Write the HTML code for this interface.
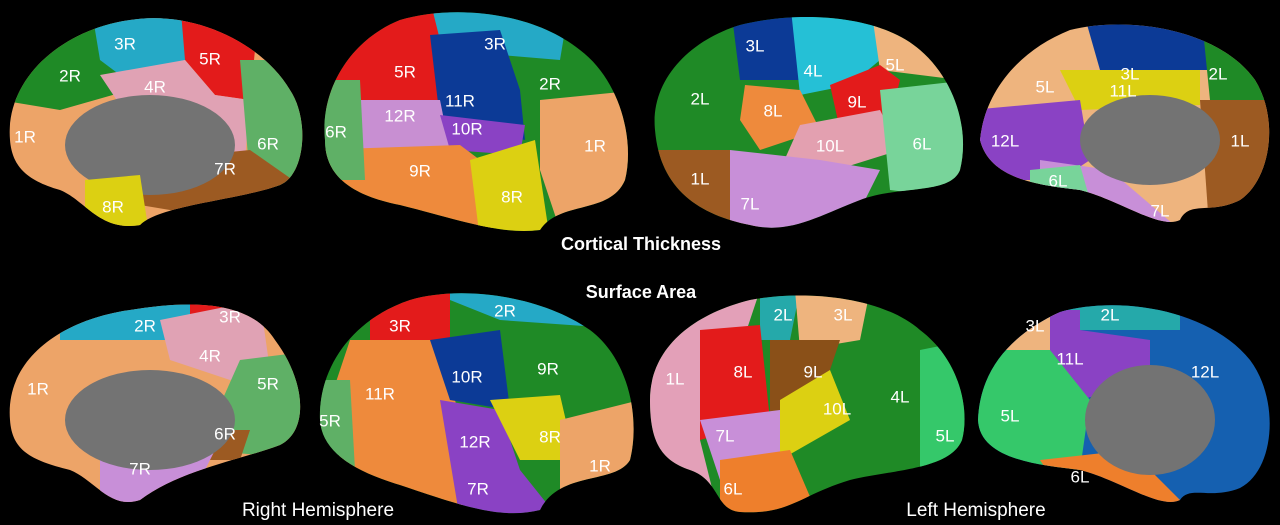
<!DOCTYPE html>
<html><head><meta charset="utf-8"><style>
html,body{margin:0;padding:0;background:#000;width:1280px;height:525px;overflow:hidden}
svg text{font-family:"Liberation Sans",sans-serif;fill:#fff;font-size:17px;text-anchor:middle;dominant-baseline:middle}
</style></head><body>
<svg width="1280" height="525" viewBox="0 0 1280 525" xmlns="http://www.w3.org/2000/svg">
<defs>
<clipPath id="c1"><path d="M10,140 C5,80 60,30 130,20 C190,10 260,40 290,90 C310,120 305,175 280,185 C240,200 160,205 140,225 C100,232 85,200 60,190 C25,180 12,165 10,140Z"/></clipPath>
<clipPath id="c2"><path d="M325,140 C320,90 350,40 400,20 C450,5 530,10 580,50 C620,80 635,140 625,180 C610,215 560,200 540,230 C500,235 460,220 400,205 C350,195 325,175 325,140Z"/></clipPath>
<clipPath id="c3"><path d="M655,130 C650,80 690,40 740,25 C800,10 880,15 920,50 C955,80 970,130 960,170 C950,195 900,185 860,200 C820,215 790,235 750,225 C700,215 660,190 655,130Z"/></clipPath>
<clipPath id="c4"><path d="M980,140 C985,90 1020,50 1070,30 C1130,15 1220,30 1255,80 C1280,120 1270,180 1240,200 C1210,215 1190,200 1180,220 C1160,230 1120,200 1080,190 C1040,185 990,180 980,140Z"/></clipPath>
<clipPath id="c5"><path d="M10,420 C5,360 60,320 130,310 C190,300 250,300 275,340 C305,380 310,430 280,445 C240,460 180,470 140,500 C110,510 95,480 70,470 C30,460 12,450 10,420Z"/></clipPath>
<clipPath id="c6"><path d="M320,420 C318,370 350,320 410,300 C460,285 540,295 590,330 C630,360 640,420 630,460 C615,485 560,470 540,510 C500,520 460,505 400,485 C350,470 322,450 320,420Z"/></clipPath>
<clipPath id="c7"><path d="M650,400 C650,350 690,315 750,300 C800,290 880,295 920,330 C960,360 970,410 962,440 C950,470 890,470 850,480 C800,495 790,515 740,512 C715,510 720,480 690,470 C660,460 650,440 650,400Z"/></clipPath>
<clipPath id="c8"><path d="M978,420 C980,370 1010,335 1060,312 C1120,295 1210,310 1250,360 C1280,400 1275,470 1240,488 C1210,500 1190,485 1180,500 C1160,510 1120,480 1080,470 C1040,465 980,460 978,420Z"/></clipPath>
</defs>

<!-- Brain 1 -->
<g clip-path="url(#c1)">
<rect x="0" y="0" width="320" height="240" fill="#eda468"/>
<polygon points="0,0 110,0 130,90 60,110 0,100" fill="#1f8a26"/>
<polygon points="90,0 190,0 185,60 120,75 100,60" fill="#25a9c6"/>
<polygon points="180,0 260,0 250,100 215,95 185,60" fill="#e31b1b"/>
<polygon points="100,75 185,60 215,95 250,100 245,160 130,120" fill="#e0a2b4"/>
<polygon points="240,60 320,60 320,200 250,180" fill="#5fb066"/>
<polygon points="150,160 250,150 300,185 200,215 140,205" fill="#9c5a22"/>
<ellipse cx="150" cy="145" rx="85" ry="50" fill="#737373"/>
<polygon points="85,180 140,175 150,240 85,240" fill="#dcd012"/>
</g>
<!-- Brain 2 -->
<g clip-path="url(#c2)">
<rect x="310" y="0" width="330" height="240" fill="#1f8a26"/>
<polygon points="320,0 440,0 440,100 380,105 320,110" fill="#e31b1b"/>
<polygon points="430,0 570,0 560,60 500,55 440,40" fill="#25a9c6"/>
<polygon points="430,35 500,30 520,90 525,140 440,120" fill="#0c3a96"/>
<polygon points="540,100 640,90 640,240 560,230 540,170" fill="#eda468"/>
<polygon points="340,100 440,100 450,150 360,160" fill="#c88fd2"/>
<polygon points="440,115 525,125 520,155 450,150" fill="#8a42c4"/>
<polygon points="310,150 460,145 500,175 490,240 310,240" fill="#ee8a3c"/>
<polygon points="470,160 535,140 550,240 480,240" fill="#dcd012"/>
<polygon points="310,80 360,80 365,180 310,180" fill="#5fb066"/>
</g>
<!-- Brain 3 -->
<g clip-path="url(#c3)">
<rect x="640" y="0" width="330" height="240" fill="#1f8a26"/>
<polygon points="730,0 800,0 800,80 740,80" fill="#0c3a96"/>
<polygon points="790,0 880,0 880,60 850,85 800,95" fill="#25c0d6"/>
<polygon points="870,0 970,0 960,80 880,70" fill="#eeb47e"/>
<polygon points="830,85 880,65 900,80 890,120 840,130" fill="#e31b1b"/>
<polygon points="745,85 800,90 820,130 760,150 740,120" fill="#ee8a3c"/>
<polygon points="800,125 880,110 900,150 820,175 780,170" fill="#e3a0b0"/>
<polygon points="880,90 970,80 970,200 890,190" fill="#78d49a"/>
<polygon points="640,150 730,150 760,230 640,240" fill="#9c5a22"/>
<polygon points="730,150 820,160 880,170 860,210 790,240 730,240" fill="#c88fd8"/>
</g>
<!-- Brain 4 -->
<g clip-path="url(#c4)">
<rect x="970" y="0" width="310" height="240" fill="#eeb47e"/>
<polygon points="1080,0 1200,0 1210,70 1100,70" fill="#0c3a96"/>
<polygon points="1200,0 1280,0 1280,100 1210,100" fill="#1f8a26"/>
<polygon points="1200,100 1280,100 1280,240 1210,240" fill="#9c5a22"/>
<polygon points="1060,70 1200,70 1200,105 1080,110" fill="#dcd012"/>
<polygon points="970,110 1080,100 1090,160 1060,180 970,180" fill="#8a42c4"/>
<polygon points="1040,160 1110,170 1180,230 1100,230 1040,200" fill="#c88fd8"/>
<ellipse cx="1150" cy="140" rx="70" ry="45" fill="#737373"/>
<polygon points="1030,170 1080,165 1090,200 1030,200" fill="#78d49a"/>
</g>
<!-- Brain 5 -->
<g clip-path="url(#c5)">
<rect x="0" y="290" width="320" height="230" fill="#eda468"/>
<polygon points="60,290 200,290 190,340 60,340" fill="#25a9c6"/>
<polygon points="190,290 230,290 220,320 190,320" fill="#e31b1b"/>
<polygon points="160,320 260,300 270,370 230,380 170,360" fill="#e0a2b4"/>
<polygon points="240,360 320,350 320,460 200,450" fill="#5fb066"/>
<polygon points="170,430 250,430 240,460 180,460" fill="#9c5a22"/>
<polygon points="100,455 220,440 180,520 100,520" fill="#c88fd8"/>
<ellipse cx="150" cy="420" rx="85" ry="50" fill="#737373"/>
</g>
<!-- Brain 6 -->
<g clip-path="url(#c6)">
<rect x="310" y="285" width="330" height="240" fill="#1f8a26"/>
<polygon points="370,290 450,290 450,350 370,350" fill="#e31b1b"/>
<polygon points="450,285 640,285 640,330 500,320 450,300" fill="#25a9c6"/>
<polygon points="350,340 440,340 460,420 500,460 450,520 350,520 330,400" fill="#ee8a3c"/>
<polygon points="310,380 350,380 355,470 310,470" fill="#5fb066"/>
<polygon points="430,340 500,330 510,410 450,400" fill="#0c3a96"/>
<polygon points="440,400 500,410 520,470 560,520 460,520" fill="#8a42c4"/>
<polygon points="490,400 560,395 575,460 520,460" fill="#dcd012"/>
<polygon points="560,420 640,400 640,520 560,520" fill="#eda468"/>
</g>
<!-- Brain 7 -->
<g clip-path="url(#c7)">
<rect x="640" y="290" width="330" height="230" fill="#1f8a26"/>
<polygon points="640,290 760,290 740,350 700,440 720,520 640,520" fill="#e3a0b8"/>
<polygon points="760,290 800,290 790,340 760,340" fill="#25a9aa"/>
<polygon points="795,290 870,290 860,340 800,350" fill="#eeb47e"/>
<polygon points="700,330 760,325 770,420 700,440" fill="#e31b1b"/>
<polygon points="770,340 840,340 820,400 770,420" fill="#8a5018"/>
<polygon points="700,420 780,410 780,470 720,480" fill="#c88fd8"/>
<polygon points="780,400 830,370 850,420 780,460" fill="#dcd012"/>
<polygon points="720,460 790,450 820,520 720,520" fill="#ee7f2c"/>
<polygon points="920,350 970,340 970,470 920,470" fill="#35c86a"/>
</g>
<!-- Brain 8 -->
<g clip-path="url(#c8)">
<rect x="970" y="290" width="310" height="230" fill="#1560b0"/>
<polygon points="1040,290 1180,290 1180,330 1080,330" fill="#25a9aa"/>
<polygon points="1000,300 1060,300 1050,350 1000,350" fill="#eeb47e"/>
<polygon points="1050,310 1080,310 1080,330 1150,340 1150,380 1080,400 1050,380" fill="#8a42c4"/>
<polygon points="970,350 1050,350 1090,400 1080,470 970,470" fill="#35c86a"/>
<polygon points="1040,460 1130,450 1200,520 1080,520" fill="#ee7f2c"/>
<ellipse cx="1150" cy="420" rx="65" ry="55" fill="#737373"/>
</g>

<text x="125" y="45">3R</text><text x="210" y="60">5R</text><text x="70" y="77">2R</text><text x="155" y="88">4R</text><text x="25" y="138">1R</text><text x="268" y="145">6R</text><text x="225" y="170">7R</text><text x="113" y="208">8R</text>
<text x="405" y="73">5R</text><text x="495" y="45">3R</text><text x="460" y="102">11R</text><text x="550" y="85">2R</text><text x="400" y="117">12R</text><text x="467" y="130">10R</text><text x="336" y="133">6R</text><text x="595" y="147">1R</text><text x="420" y="172">9R</text><text x="512" y="198">8R</text>
<text x="755" y="47">3L</text><text x="813" y="72">4L</text><text x="895" y="66">5L</text><text x="700" y="100">2L</text><text x="857" y="103">9L</text><text x="773" y="112">8L</text><text x="830" y="147">10L</text><text x="922" y="145">6L</text><text x="700" y="180">1L</text><text x="750" y="205">7L</text>
<text x="1130" y="75">3L</text><text x="1045" y="88">5L</text><text x="1218" y="75">2L</text><text x="1123" y="92">11L</text><text x="1005" y="142">12L</text><text x="1240" y="142">1L</text><text x="1058" y="182">6L</text><text x="1160" y="212">7L</text>
<text x="230" y="318">3R</text><text x="145" y="327">2R</text><text x="210" y="357">4R</text><text x="38" y="390">1R</text><text x="268" y="385">5R</text><text x="225" y="435">6R</text><text x="140" y="470">7R</text>
<text x="400" y="327">3R</text><text x="505" y="312">2R</text><text x="467" y="378">10R</text><text x="548" y="370">9R</text><text x="380" y="395">11R</text><text x="330" y="422">5R</text><text x="550" y="438">8R</text><text x="475" y="443">12R</text><text x="600" y="467">1R</text><text x="478" y="490">7R</text>
<text x="783" y="316">2L</text><text x="843" y="316">3L</text><text x="675" y="380">1L</text><text x="743" y="373">8L</text><text x="813" y="373">9L</text><text x="837" y="410">10L</text><text x="900" y="398">4L</text><text x="725" y="437">7L</text><text x="945" y="437">5L</text><text x="733" y="490">6L</text>
<text x="1035" y="327">3L</text><text x="1110" y="316">2L</text><text x="1070" y="360">11L</text><text x="1205" y="373">12L</text><text x="1010" y="417">5L</text><text x="1080" y="478">6L</text>

<text x="641" y="245" style="font-weight:bold;font-size:18px">Cortical Thickness</text>
<text x="641" y="293" style="font-weight:bold;font-size:18px">Surface Area</text>
<text x="318" y="511" style="font-size:19px">Right Hemisphere</text>
<text x="976" y="511" style="font-size:19px">Left Hemisphere</text>
</svg>
</body></html>
